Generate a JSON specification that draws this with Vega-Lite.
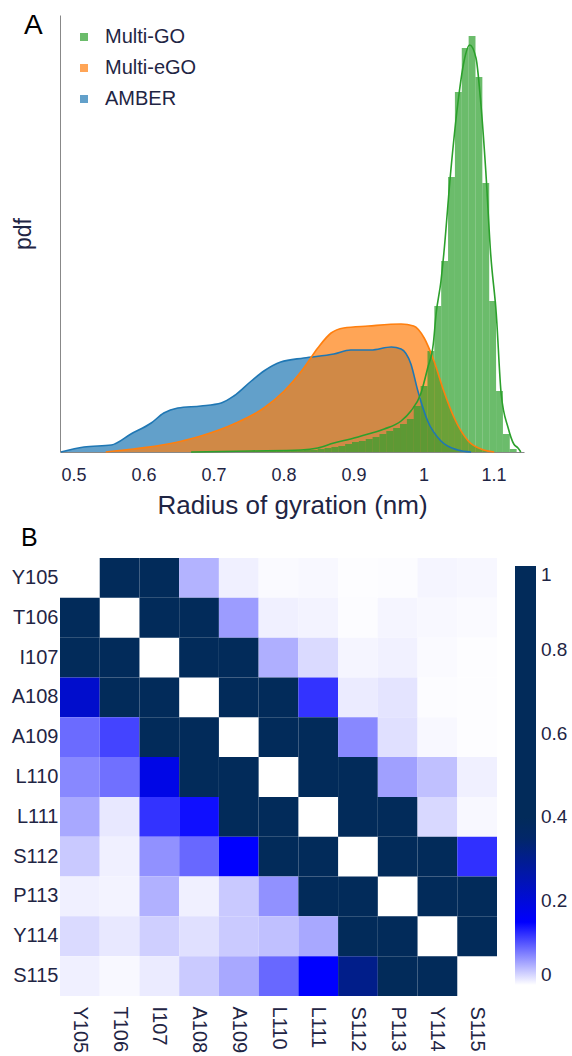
{
  "$schema": "https://vega.github.io/schema/vega-lite/v6.json",
  "background": "white",
  "padding": {"left": 11, "top": 12, "right": 0, "bottom": 0},
  "spacing": 8,
  "config": {
    "view": {"stroke": null},
    "font": "Liberation Sans",
    "axis": {"grid": false, "labelColor": "#1f2544", "titleColor": "#1f2544", "titleFontWeight": "normal"},
    "legend": {"labelColor": "#1f2544"}
  },
  "datasets": {
    "kde": [
      {"model": "AMBER", "rg": 0.482, "pdf": 0},
      {"model": "AMBER", "rg": 0.515, "pdf": 0.25},
      {"model": "AMBER", "rg": 0.554, "pdf": 0.35},
      {"model": "AMBER", "rg": 0.582, "pdf": 0.9},
      {"model": "AMBER", "rg": 0.611, "pdf": 1.45},
      {"model": "AMBER", "rg": 0.629, "pdf": 1.95},
      {"model": "AMBER", "rg": 0.649, "pdf": 2.2},
      {"model": "AMBER", "rg": 0.682, "pdf": 2.3},
      {"model": "AMBER", "rg": 0.711, "pdf": 2.45},
      {"model": "AMBER", "rg": 0.729, "pdf": 2.8},
      {"model": "AMBER", "rg": 0.754, "pdf": 3.55},
      {"model": "AMBER", "rg": 0.772, "pdf": 4.05},
      {"model": "AMBER", "rg": 0.796, "pdf": 4.5},
      {"model": "AMBER", "rg": 0.829, "pdf": 4.7},
      {"model": "AMBER", "rg": 0.872, "pdf": 4.9},
      {"model": "AMBER", "rg": 0.896, "pdf": 5.1},
      {"model": "AMBER", "rg": 0.925, "pdf": 5.1},
      {"model": "AMBER", "rg": 0.954, "pdf": 5.25},
      {"model": "AMBER", "rg": 0.968, "pdf": 5.15},
      {"model": "AMBER", "rg": 0.982, "pdf": 4.4},
      {"model": "AMBER", "rg": 0.992, "pdf": 3.05},
      {"model": "AMBER", "rg": 1.006, "pdf": 1.55},
      {"model": "AMBER", "rg": 1.025, "pdf": 0.55},
      {"model": "AMBER", "rg": 1.049, "pdf": 0.1},
      {"model": "AMBER", "rg": 1.068, "pdf": 0},
      {"model": "Multi-eGO", "rg": 0.546, "pdf": 0},
      {"model": "Multi-eGO", "rg": 0.586, "pdf": 0.15},
      {"model": "Multi-eGO", "rg": 0.635, "pdf": 0.4},
      {"model": "Multi-eGO", "rg": 0.682, "pdf": 0.8},
      {"model": "Multi-eGO", "rg": 0.729, "pdf": 1.4},
      {"model": "Multi-eGO", "rg": 0.772, "pdf": 2.2},
      {"model": "Multi-eGO", "rg": 0.801, "pdf": 3.05},
      {"model": "Multi-eGO", "rg": 0.829, "pdf": 4.2},
      {"model": "Multi-eGO", "rg": 0.849, "pdf": 5.2},
      {"model": "Multi-eGO", "rg": 0.868, "pdf": 5.95},
      {"model": "Multi-eGO", "rg": 0.886, "pdf": 6.2},
      {"model": "Multi-eGO", "rg": 0.921, "pdf": 6.3},
      {"model": "Multi-eGO", "rg": 0.968, "pdf": 6.4},
      {"model": "Multi-eGO", "rg": 0.986, "pdf": 6.3},
      {"model": "Multi-eGO", "rg": 1.001, "pdf": 5.7},
      {"model": "Multi-eGO", "rg": 1.015, "pdf": 4.55},
      {"model": "Multi-eGO", "rg": 1.029, "pdf": 3.05},
      {"model": "Multi-eGO", "rg": 1.044, "pdf": 1.7},
      {"model": "Multi-eGO", "rg": 1.064, "pdf": 0.55},
      {"model": "Multi-eGO", "rg": 1.086, "pdf": 0.1},
      {"model": "Multi-eGO", "rg": 1.101, "pdf": 0},
      {"model": "Multi-GO", "rg": 0.668, "pdf": 0},
      {"model": "Multi-GO", "rg": 0.754, "pdf": 0.05},
      {"model": "Multi-GO", "rg": 0.825, "pdf": 0.1},
      {"model": "Multi-GO", "rg": 0.849, "pdf": 0.2},
      {"model": "Multi-GO", "rg": 0.872, "pdf": 0.45},
      {"model": "Multi-GO", "rg": 0.896, "pdf": 0.65},
      {"model": "Multi-GO", "rg": 0.921, "pdf": 0.9},
      {"model": "Multi-GO", "rg": 0.944, "pdf": 1.15},
      {"model": "Multi-GO", "rg": 0.968, "pdf": 1.55},
      {"model": "Multi-GO", "rg": 0.982, "pdf": 2.05},
      {"model": "Multi-GO", "rg": 0.996, "pdf": 2.9},
      {"model": "Multi-GO", "rg": 1.006, "pdf": 4.2},
      {"model": "Multi-GO", "rg": 1.014, "pdf": 5.4},
      {"model": "Multi-GO", "rg": 1.018, "pdf": 6.9},
      {"model": "Multi-GO", "rg": 1.025, "pdf": 8.55},
      {"model": "Multi-GO", "rg": 1.029, "pdf": 9.9},
      {"model": "Multi-GO", "rg": 1.039, "pdf": 14.05},
      {"model": "Multi-GO", "rg": 1.049, "pdf": 17.4},
      {"model": "Multi-GO", "rg": 1.058, "pdf": 19.55},
      {"model": "Multi-GO", "rg": 1.066, "pdf": 20.35},
      {"model": "Multi-GO", "rg": 1.075, "pdf": 19.7},
      {"model": "Multi-GO", "rg": 1.082, "pdf": 17.4},
      {"model": "Multi-GO", "rg": 1.089, "pdf": 14.05},
      {"model": "Multi-GO", "rg": 1.096, "pdf": 9.9},
      {"model": "Multi-GO", "rg": 1.104, "pdf": 6.9},
      {"model": "Multi-GO", "rg": 1.111, "pdf": 2.9},
      {"model": "Multi-GO", "rg": 1.121, "pdf": 1.2},
      {"model": "Multi-GO", "rg": 1.129, "pdf": 0.4},
      {"model": "Multi-GO", "rg": 1.135, "pdf": 0.2},
      {"model": "Multi-GO", "rg": 1.139, "pdf": 0}
    ],
    "ghist": [
      {"model": "Multi-GO", "x0": 0.6921, "x1": 0.7019, "pdf": 0.01},
      {"model": "Multi-GO", "x0": 0.7019, "x1": 0.7117, "pdf": 0.01},
      {"model": "Multi-GO", "x0": 0.7117, "x1": 0.7215, "pdf": 0.02},
      {"model": "Multi-GO", "x0": 0.7215, "x1": 0.7313, "pdf": 0.02},
      {"model": "Multi-GO", "x0": 0.7313, "x1": 0.7411, "pdf": 0.02},
      {"model": "Multi-GO", "x0": 0.7411, "x1": 0.7509, "pdf": 0.03},
      {"model": "Multi-GO", "x0": 0.7509, "x1": 0.7607, "pdf": 0.03},
      {"model": "Multi-GO", "x0": 0.7607, "x1": 0.7705, "pdf": 0.04},
      {"model": "Multi-GO", "x0": 0.7705, "x1": 0.7803, "pdf": 0.04},
      {"model": "Multi-GO", "x0": 0.7803, "x1": 0.7901, "pdf": 0.05},
      {"model": "Multi-GO", "x0": 0.7901, "x1": 0.7999, "pdf": 0.05},
      {"model": "Multi-GO", "x0": 0.7999, "x1": 0.8097, "pdf": 0.06},
      {"model": "Multi-GO", "x0": 0.8097, "x1": 0.8195, "pdf": 0.07},
      {"model": "Multi-GO", "x0": 0.8195, "x1": 0.8293, "pdf": 0.08},
      {"model": "Multi-GO", "x0": 0.8293, "x1": 0.8391, "pdf": 0.1},
      {"model": "Multi-GO", "x0": 0.8391, "x1": 0.8489, "pdf": 0.1},
      {"model": "Multi-GO", "x0": 0.8489, "x1": 0.8587, "pdf": 0.15},
      {"model": "Multi-GO", "x0": 0.8587, "x1": 0.8685, "pdf": 0.2},
      {"model": "Multi-GO", "x0": 0.8685, "x1": 0.8783, "pdf": 0.25},
      {"model": "Multi-GO", "x0": 0.8783, "x1": 0.8881, "pdf": 0.3},
      {"model": "Multi-GO", "x0": 0.8881, "x1": 0.8979, "pdf": 0.4},
      {"model": "Multi-GO", "x0": 0.8979, "x1": 0.9077, "pdf": 0.5},
      {"model": "Multi-GO", "x0": 0.9077, "x1": 0.9175, "pdf": 0.55},
      {"model": "Multi-GO", "x0": 0.9175, "x1": 0.9273, "pdf": 0.65},
      {"model": "Multi-GO", "x0": 0.9273, "x1": 0.9371, "pdf": 0.75},
      {"model": "Multi-GO", "x0": 0.9371, "x1": 0.9469, "pdf": 0.9},
      {"model": "Multi-GO", "x0": 0.9469, "x1": 0.9567, "pdf": 1.05},
      {"model": "Multi-GO", "x0": 0.9567, "x1": 0.9665, "pdf": 1.2},
      {"model": "Multi-GO", "x0": 0.9665, "x1": 0.9763, "pdf": 1.4},
      {"model": "Multi-GO", "x0": 0.9763, "x1": 0.9861, "pdf": 1.65},
      {"model": "Multi-GO", "x0": 0.9861, "x1": 0.9959, "pdf": 2.3},
      {"model": "Multi-GO", "x0": 0.9959, "x1": 1.0057, "pdf": 3.3},
      {"model": "Multi-GO", "x0": 1.0057, "x1": 1.0155, "pdf": 5.05},
      {"model": "Multi-GO", "x0": 1.0155, "x1": 1.0253, "pdf": 7.3},
      {"model": "Multi-GO", "x0": 1.0253, "x1": 1.0351, "pdf": 9.55},
      {"model": "Multi-GO", "x0": 1.0351, "x1": 1.0449, "pdf": 13.75},
      {"model": "Multi-GO", "x0": 1.0449, "x1": 1.0547, "pdf": 18.0},
      {"model": "Multi-GO", "x0": 1.0547, "x1": 1.0645, "pdf": 20.2},
      {"model": "Multi-GO", "x0": 1.0645, "x1": 1.0743, "pdf": 20.8},
      {"model": "Multi-GO", "x0": 1.0743, "x1": 1.0841, "pdf": 18.75},
      {"model": "Multi-GO", "x0": 1.0841, "x1": 1.0939, "pdf": 13.45},
      {"model": "Multi-GO", "x0": 1.0939, "x1": 1.1037, "pdf": 7.55},
      {"model": "Multi-GO", "x0": 1.1037, "x1": 1.1135, "pdf": 3.05},
      {"model": "Multi-GO", "x0": 1.1135, "x1": 1.1233, "pdf": 0.9},
      {"model": "Multi-GO", "x0": 1.1233, "x1": 1.1331, "pdf": 0.15}
    ],
    "heat": [
      {"row": "Y105", "col": "T106", "v": 1}, {"row": "Y105", "col": "I107", "v": 1}, {"row": "Y105", "col": "A108", "v": 0.045}, {"row": "Y105", "col": "A109", "v": 0.009}, {"row": "Y105", "col": "L110", "v": 0.003}, {"row": "Y105", "col": "L111", "v": 0.004}, {"row": "Y105", "col": "S112", "v": 0.001}, {"row": "Y105", "col": "P113", "v": 0.002}, {"row": "Y105", "col": "Y114", "v": 0.006}, {"row": "Y105", "col": "S115", "v": 0.005},
      {"row": "T106", "col": "Y105", "v": 1}, {"row": "T106", "col": "I107", "v": 1}, {"row": "T106", "col": "A108", "v": 1}, {"row": "T106", "col": "A109", "v": 0.058}, {"row": "T106", "col": "L110", "v": 0.009}, {"row": "T106", "col": "L111", "v": 0.007}, {"row": "T106", "col": "S112", "v": 0.002}, {"row": "T106", "col": "P113", "v": 0.006}, {"row": "T106", "col": "Y114", "v": 0.004}, {"row": "T106", "col": "S115", "v": 0.003},
      {"row": "I107", "col": "Y105", "v": 1}, {"row": "I107", "col": "T106", "v": 1}, {"row": "I107", "col": "A108", "v": 1}, {"row": "I107", "col": "A109", "v": 1}, {"row": "I107", "col": "L110", "v": 0.047}, {"row": "I107", "col": "L111", "v": 0.022}, {"row": "I107", "col": "S112", "v": 0.006}, {"row": "I107", "col": "P113", "v": 0.008}, {"row": "I107", "col": "Y114", "v": 0.003}, {"row": "I107", "col": "S115", "v": 0.001},
      {"row": "A108", "col": "Y105", "v": 0.218}, {"row": "A108", "col": "T106", "v": 1}, {"row": "A108", "col": "I107", "v": 1}, {"row": "A108", "col": "A109", "v": 1}, {"row": "A108", "col": "L110", "v": 1}, {"row": "A108", "col": "L111", "v": 0.12}, {"row": "A108", "col": "S112", "v": 0.012}, {"row": "A108", "col": "P113", "v": 0.016}, {"row": "A108", "col": "Y114", "v": 0.002}, {"row": "A108", "col": "S115", "v": 0.001},
      {"row": "A109", "col": "Y105", "v": 0.087}, {"row": "A109", "col": "T106", "v": 0.11}, {"row": "A109", "col": "I107", "v": 1}, {"row": "A109", "col": "A108", "v": 1}, {"row": "A109", "col": "L110", "v": 1}, {"row": "A109", "col": "L111", "v": 1}, {"row": "A109", "col": "S112", "v": 0.07}, {"row": "A109", "col": "P113", "v": 0.018}, {"row": "A109", "col": "Y114", "v": 0.004}, {"row": "A109", "col": "S115", "v": 0.001},
      {"row": "L110", "col": "Y105", "v": 0.07}, {"row": "L110", "col": "T106", "v": 0.084}, {"row": "L110", "col": "I107", "v": 0.183}, {"row": "L110", "col": "A108", "v": 1}, {"row": "L110", "col": "A109", "v": 1}, {"row": "L110", "col": "L111", "v": 1}, {"row": "L110", "col": "S112", "v": 1}, {"row": "L110", "col": "P113", "v": 0.056}, {"row": "L110", "col": "Y114", "v": 0.037}, {"row": "L110", "col": "S115", "v": 0.009},
      {"row": "L111", "col": "Y105", "v": 0.051}, {"row": "L111", "col": "T106", "v": 0.0135}, {"row": "L111", "col": "I107", "v": 0.12}, {"row": "L111", "col": "A108", "v": 0.141}, {"row": "L111", "col": "A109", "v": 1}, {"row": "L111", "col": "L110", "v": 1}, {"row": "L111", "col": "S112", "v": 1}, {"row": "L111", "col": "P113", "v": 1}, {"row": "L111", "col": "Y114", "v": 0.023}, {"row": "L111", "col": "S115", "v": 0.004},
      {"row": "S112", "col": "Y105", "v": 0.032}, {"row": "S112", "col": "T106", "v": 0.009}, {"row": "S112", "col": "I107", "v": 0.065}, {"row": "S112", "col": "A108", "v": 0.089}, {"row": "S112", "col": "A109", "v": 0.15}, {"row": "S112", "col": "L110", "v": 1}, {"row": "S112", "col": "L111", "v": 1}, {"row": "S112", "col": "P113", "v": 1}, {"row": "S112", "col": "Y114", "v": 1}, {"row": "S112", "col": "S115", "v": 0.122},
      {"row": "P113", "col": "Y105", "v": 0.009}, {"row": "P113", "col": "T106", "v": 0.007}, {"row": "P113", "col": "I107", "v": 0.046}, {"row": "P113", "col": "A108", "v": 0.009}, {"row": "P113", "col": "A109", "v": 0.032}, {"row": "P113", "col": "L110", "v": 0.065}, {"row": "P113", "col": "L111", "v": 1}, {"row": "P113", "col": "S112", "v": 1}, {"row": "P113", "col": "Y114", "v": 1}, {"row": "P113", "col": "S115", "v": 1},
      {"row": "Y114", "col": "Y105", "v": 0.022}, {"row": "Y114", "col": "T106", "v": 0.0135}, {"row": "Y114", "col": "I107", "v": 0.028}, {"row": "Y114", "col": "A108", "v": 0.018}, {"row": "Y114", "col": "A109", "v": 0.031}, {"row": "Y114", "col": "L110", "v": 0.037}, {"row": "Y114", "col": "L111", "v": 0.051}, {"row": "Y114", "col": "S112", "v": 1}, {"row": "Y114", "col": "P113", "v": 1}, {"row": "Y114", "col": "S115", "v": 1},
      {"row": "S115", "col": "Y105", "v": 0.009}, {"row": "S115", "col": "T106", "v": 0.004}, {"row": "S115", "col": "I107", "v": 0.012}, {"row": "S115", "col": "A108", "v": 0.031}, {"row": "S115", "col": "A109", "v": 0.051}, {"row": "S115", "col": "L110", "v": 0.089}, {"row": "S115", "col": "L111", "v": 0.15}, {"row": "S115", "col": "S112", "v": 0.306}, {"row": "S115", "col": "P113", "v": 1}, {"row": "S115", "col": "Y114", "v": 1}
    ]
  },
  "vconcat": [
    {
      "width": 464,
      "height": 437,
      "title": {"text": "A", "anchor": "start", "frame": "group", "offset": -47, "baseline": "alphabetic", "dx": -36, "fontSize": 28, "fontWeight": "normal", "color": "#000000"},
      "layer": [
        {
          "data": {"name": "kde"},
          "transform": [{"filter": "datum.model === 'AMBER'"}],
          "mark": {"type": "area", "opacity": 0.7, "interpolate": "monotone"},
          "encoding": {
            "x": {"field": "rg", "type": "quantitative", "scale": {"domain": [0.4807, 1.1436], "nice": false, "zero": false},
              "axis": {"title": "Radius of gyration (nm)", "values": [0.5, 0.6, 0.7, 0.8, 0.9, 1, 1.1], "format": "~g", "ticks": false, "labelFlush": false, "labelFontSize": 18, "labelPadding": 14, "domainColor": "#888888", "titleFontSize": 26, "titlePadding": 8}},
            "y": {"field": "pdf", "type": "quantitative", "scale": {"domain": [0, 21.85], "nice": false},
              "axis": {"title": "pdf", "labels": false, "ticks": false, "domainColor": "#888888", "titleFontSize": 23, "titlePadding": 25}},
            "color": {"field": "model", "type": "nominal",
              "scale": {"domain": ["Multi-GO", "Multi-eGO", "AMBER"], "range": ["#2ca02c", "#ff7f0e", "#1f77b4"]},
              "legend": {"title": null, "orient": "none", "legendX": 14, "legendY": 12, "symbolType": "square", "symbolSize": 64, "symbolOpacity": 0.7, "symbolStrokeWidth": 0, "labelFontSize": 20, "rowPadding": 11, "labelOffset": 11, "padding": 0}}
          }
        },
        {
          "data": {"name": "kde"},
          "transform": [{"filter": "datum.model === 'Multi-eGO'"}],
          "mark": {"type": "area", "opacity": 0.7, "interpolate": "monotone"},
          "encoding": {
            "x": {"field": "rg", "type": "quantitative"},
            "y": {"field": "pdf", "type": "quantitative"},
            "color": {"field": "model", "type": "nominal"}
          }
        },
        {
          "data": {"name": "ghist"},
          "mark": {"type": "rect", "opacity": 0.7},
          "encoding": {
            "x": {"field": "x0", "type": "quantitative"},
            "x2": {"field": "x1"},
            "y": {"field": "pdf", "type": "quantitative"},
            "y2": {"datum": 0},
            "color": {"field": "model", "type": "nominal"}
          }
        },
        {
          "data": {"name": "kde"},
          "mark": {"type": "line", "interpolate": "monotone", "strokeWidth": 1.6},
          "encoding": {
            "x": {"field": "rg", "type": "quantitative"},
            "y": {"field": "pdf", "type": "quantitative"},
            "stroke": {"field": "model", "type": "nominal",
              "scale": {"domain": ["Multi-GO", "Multi-eGO", "AMBER"], "range": ["#2ca02c", "#ff7f0e", "#1f77b4"]},
              "legend": null}
          }
        }
      ]
    },
    {
      "width": 437,
      "height": 438,
      "title": {"text": "B", "anchor": "start", "frame": "group", "offset": -13, "baseline": "alphabetic", "dx": -39, "fontSize": 25, "fontWeight": "normal", "color": "#000000"},
      "data": {"name": "heat"},
      "mark": {"type": "rect"},
      "encoding": {
        "x": {"field": "col", "type": "nominal",
          "sort": ["Y105", "T106", "I107", "A108", "A109", "L110", "L111", "S112", "P113", "Y114", "S115"],
          "scale": {"paddingInner": 0, "paddingOuter": 0},
          "axis": {"title": null, "labelAngle": 90, "ticks": false, "domain": false, "labelPadding": 10, "labelFontSize": 20}},
        "y": {"field": "row", "type": "nominal",
          "sort": ["Y105", "T106", "I107", "A108", "A109", "L110", "L111", "S112", "P113", "Y114", "S115"],
          "scale": {"paddingInner": 0, "paddingOuter": 0},
          "axis": {"title": null, "ticks": false, "domain": false, "labelPadding": 2, "labelFontSize": 20}},
        "color": {"field": "v", "type": "quantitative",
          "scale": {"domain": [0, 0.15, 0.37, 1], "range": ["#ffffff", "#0000ff", "#022b5a", "#022b5a"], "interpolate": "rgb"},
          "legend": {"title": null, "orient": "none", "direction": "vertical", "legendX": 455, "legendY": 8, "gradientLength": 419, "gradientThickness": 21, "gradientStrokeWidth": 0, "values": [0, 0.2, 0.4, 0.6, 0.8, 1], "format": "~g", "labelFontSize": 19, "labelOffset": 5, "labelBaseline": "middle", "padding": 0}}
      }
    }
  ]
}
